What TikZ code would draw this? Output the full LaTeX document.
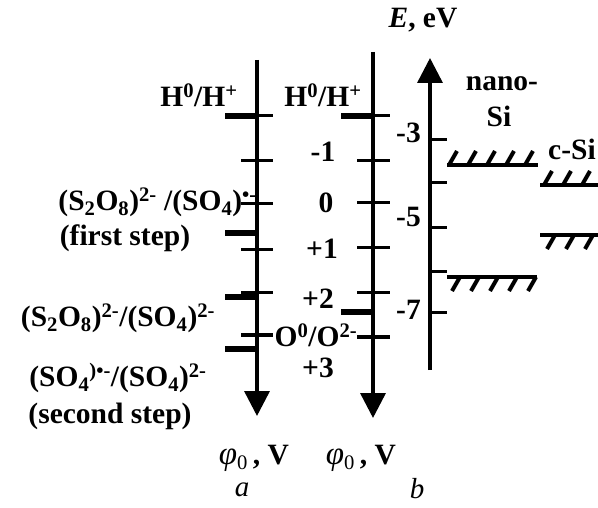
\documentclass[tikz,border=0pt]{standalone}
\usepackage{fontspec}
\setmainfont{Liberation Serif}
\usetikzlibrary{arrows.meta}
\tikzset{
  axis/.style={line width=3.5pt,-{Triangle[width=25pt,length=25pt]}},
  tick/.style={line width=3pt},
  level/.style={line width=6pt},
  band/.style={line width=4.5pt},
  hatch/.style={line width=4pt},
  lbl/.style={font=\fontsize{29.5}{30}\selectfont\bfseries, inner sep=0pt},
  ital/.style={font=\fontsize{29}{29}\selectfont\itshape, inner sep=0pt}
}
\begin{document}
\begin{tikzpicture}[x=1pt,y=-1pt]
\useasboundingbox (0,0) rectangle (598,508);
% axis a
\coordinate (a0) at (257,60);
\coordinate (a1) at (257,416);
\draw[axis] (a0) -- (a1);
\foreach \y in {116,161,204,250,293,335} \draw[tick] (241,\y) -- (273,\y);
\foreach \y in {116,233,297,349} \draw[level] (225,\y) -- (257,\y);
% axis b
\coordinate (b0) at (373,52);
\coordinate (b1) at (373,418);
\draw[axis] (b0) -- (b1);
\foreach \y in {116,161,203,248,293,337} \draw[tick] (357,\y) -- (390,\y);
\foreach \y in {116,312} \draw[level] (341,\y) -- (373,\y);
% axis E
\coordinate (e0) at (430,370);
\coordinate (e1) at (430,58);
\draw[axis] (e0) -- (e1);
\foreach \y in {140,183,228,272,313} \draw[tick] (430,\y) -- (447,\y);
% labels on a
\node[lbl] (ha) at (199,95) {H\textsuperscript{0}/H\textsuperscript{+}};
\node[lbl,anchor=east] (s1) at (257,202) {(S\textsubscript{2}O\textsubscript{8})\textsuperscript{2-} /(SO\textsubscript{4})\textsuperscript{•-}};
\node[lbl] (fs) at (125,238) {(first step)};
\node[lbl] (s2) at (118,318) {(S\textsubscript{2}O\textsubscript{8})\textsuperscript{2-}/(SO\textsubscript{4})\textsuperscript{2-}};
\node[lbl] (s3) at (118,378) {(SO\textsubscript{4}\textsuperscript{)•-}/(SO\textsubscript{4})\textsuperscript{2-}};
\node[lbl] (ss) at (110,416) {(second step)};
% labels on b
\node[lbl] (hb) at (323,95) {H\textsuperscript{0}/H\textsuperscript{+}};
\node[lbl] (m1) at (323,152) {-1};
\node[lbl] (z0) at (326,203) {0};
\node[lbl] (p1) at (322,249) {+1};
\node[lbl] (p2) at (318,299) {+2};
\node[lbl] (oo) at (316,335) {O\textsuperscript{0}/O\textsuperscript{2-}};
\node[lbl] (p3) at (318,368) {+3};
% labels on E
\node[lbl,anchor=east] (e3) at (421,133) {-3};
\node[lbl,anchor=east] (e5) at (421,217) {-5};
\node[lbl,anchor=east] (e7) at (421,310) {-7};
\node[lbl] (eev) at (423,20) {\textit{E}, eV};
\node[lbl] (nano) at (502,84) {nano-};
\node[lbl] (si) at (499,116) {Si};
\node[lbl] (csi) at (572,149) {c-Si};
% bands
\draw[band] (447,165) -- (538,165);
\foreach \x in {449,468,487,506,525} \draw[hatch] (\x,165) -- ++(8,-14);
\draw[band] (447,277) -- (537,277);
\foreach \x in {460,479,498,517,536} \draw[hatch] (\x,277) -- ++(-8,14);
\draw[band] (540,185) -- (598,185);
\foreach \x in {544,563,582} \draw[hatch] (\x,185) -- ++(8,-14);
\draw[band] (540,235) -- (598,235);
\foreach \x in {555,574,593} \draw[hatch] (\x,235) -- ++(-8,14);
% bottom labels
\node[lbl] (pa) at (254,458) {{\mdseries\itshape\fontsize{33}{33}\selectfont φ}\textsubscript{\mdseries 0}\,, V};
\node[lbl] (pb) at (361,458) {{\mdseries\itshape\fontsize{33}{33}\selectfont φ}\textsubscript{\mdseries 0}\,, V};
\node[ital] (la) at (242,490) {a};
\node[ital] (lb) at (417,489) {b};
\end{tikzpicture}
\end{document}
